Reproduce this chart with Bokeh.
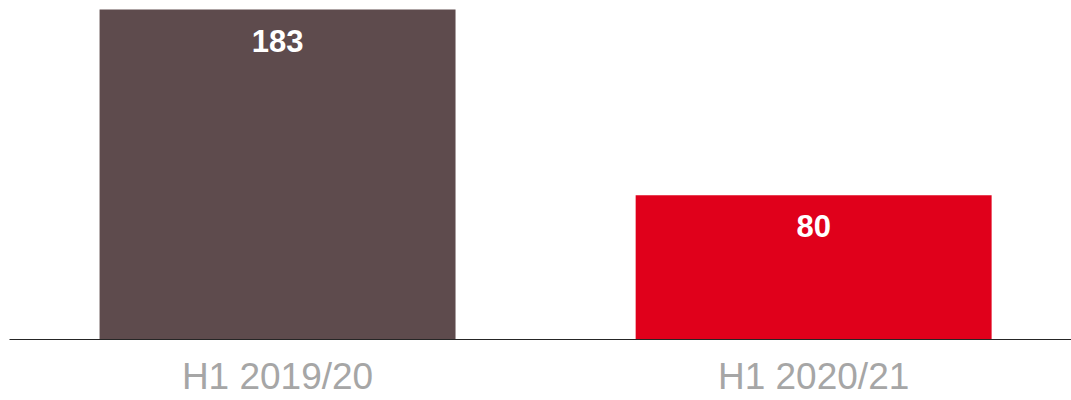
from bokeh.plotting import figure
from bokeh.models import Range1d, FixedTicker, ColumnDataSource
from bokeh.core.properties import value
from bokeh.embed import file_html
from bokeh.resources import INLINE

categories = ["H1 2019/20", "H1 2020/21"]
values = [183, 80]
colors = ["#5E4B4D", "#E0001B"]
labels = ["183", "80"]

xs = list(range(len(categories)))
src = ColumnDataSource(dict(x=xs, top=values, color=colors, label=labels))

p = figure(width=1071, height=400, output_backend="svg", toolbar_location=None,
           x_range=Range1d(-0.5, 1.481), y_range=Range1d(0, 188.0),
           y_axis_location=None, min_border_left=9, min_border_right=0,
           min_border_top=0, min_border_bottom=61)
p.outline_line_color = None
p.xgrid.visible = False
p.ygrid.visible = False
p.background_fill_color = "white"
p.border_fill_color = "white"

p.vbar(x="x", top="top", width=0.664, bottom=0, fill_color="color", line_color=None, source=src)
p.text(x="x", y="top", text="label", source=src, text_color="white",
       text_font=value("Liberation Sans"), text_font_style="bold", text_font_size="31px",
       text_align="center", text_baseline="middle", y_offset=31)

ax = p.xaxis[0]
ax.ticker = FixedTicker(ticks=xs)
ax.major_label_overrides = {i: c for i, c in zip(xs, categories)}
ax.major_tick_line_color = None
ax.minor_tick_line_color = None
ax.major_tick_out = 0
ax.major_tick_in = 0
ax.axis_line_color = "#262626"
ax.axis_line_width = 1.2
ax.major_label_text_font = "Liberation Sans"
ax.major_label_text_font_size = "37px"
ax.major_label_text_color = "#A6A6A6"
ax.major_label_standoff = 16

open("out.html", "w").write(file_html(p, INLINE))
